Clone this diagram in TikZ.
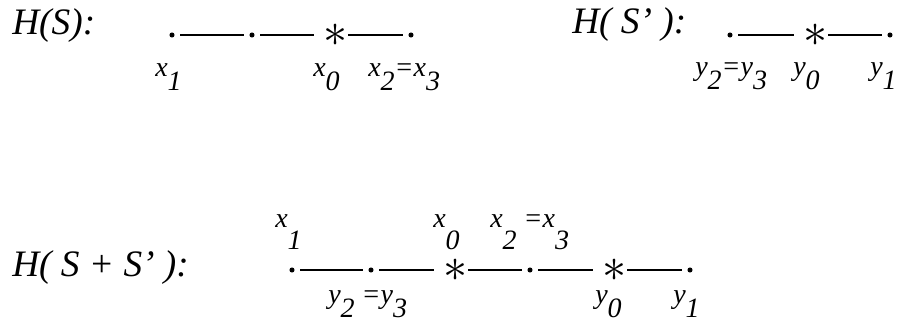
\documentclass[tikz,border=0pt]{standalone}
\usepackage{fontspec}
\usepackage{graphicx}
\setmainfont{Liberation Serif}
\usetikzlibrary{positioning}

\newcommand{\dsub}[1]{\raisebox{-10.5pt}{#1}}
\newcommand{\dsubb}[1]{\raisebox{-16pt}{#1}}
\newcommand{\bigast}{\makebox[0pt]{\scalebox{1.45}{$\ast$}}}

\begin{document}
\begin{tikzpicture}[x=0.75pt,y=-0.75pt,
  pt/.style={circle,fill,inner sep=0pt,minimum size=3.8pt},
  ast/.style={inner sep=0pt,font=\fontsize{24.88}{25}\selectfont},
  seg/.style={line width=2pt,shorten <=4.2pt,shorten >=4.2pt},
  tostar/.style={shorten >=16pt},
  fromstar/.style={shorten <=8.5pt},
  head/.style={anchor=base west,inner sep=0pt,font=\fontsize{28}{30}\selectfont\itshape},
  lab/.style={anchor=base west,inner sep=0pt,font=\fontsize{21}{24}\selectfont\itshape}]
\useasboundingbox (0,0) rectangle (903,323);
% headings
\node[head] (hs) at (12,35) {H(S):};
\node[head] (hsp) at (572,34) {H( S’ ):};
\node[head] (hss) at (12,277) {H( S + S’ ):};
% points of H(S) and H(S')
\foreach \n/\x in {s1/172,s2/252,s4/411,t1/730,t3/890} \node[pt] (\n) at (\x,35) {};
\foreach \n/\x in {s3/336,t2/816} \node[ast] (\n) at (\x,35) {\bigast};
% points of H(S+S')
\foreach \n/\x in {u1/292,u2/371,u4/530,u6/690} \node[pt] (\n) at (\x,270) {};
\foreach \n/\x in {u3/456,u5/615} \node[ast] (\n) at (\x,270) {\bigast};
\draw[seg] (s1) -- (s2);
\draw[seg,tostar] (s2) -- (s3);
\draw[seg,fromstar] (s3) -- (s4);
\draw[seg,tostar] (t1) -- (t2);
\draw[seg,fromstar] (t2) -- (t3);
\draw[seg] (u1) -- (u2);
\draw[seg,tostar] (u2) -- (u3);
\draw[seg,fromstar] (u3) -- (u4);
\draw[seg,tostar] (u4) -- (u5);
\draw[seg,fromstar] (u5) -- (u6);
% labels
\node[lab] (lx1) at (155,77) {x\dsub{1}};
\node[lab] (lx0) at (313,77) {x\dsub{0}};
\node[lab] (lx2) at (368,77) {x\dsub{2}=x\dsub{3}};
\node[lab] (ly2) at (695,76) {y\dsub{2}=y\dsub{3}};
\node[lab] (ly0) at (793,76) {y\dsub{0}};
\node[lab] (ly1) at (870,76) {y\dsub{1}};
\node[lab] (mx1) at (275,228) {x\dsubb{1}};
\node[lab] (mx0) at (433,228) {x\dsubb{0}};
\node[lab] (mx2) at (490,228) {x\dsubb{2} =x\dsubb{3}};
\node[lab] (my2) at (328,304) {y\dsub{2} =y\dsub{3}};
\node[lab] (my0) at (595,304) {y\dsub{0}};
\node[lab] (my1) at (673,304) {y\dsub{1}};
\end{tikzpicture}
\end{document}
